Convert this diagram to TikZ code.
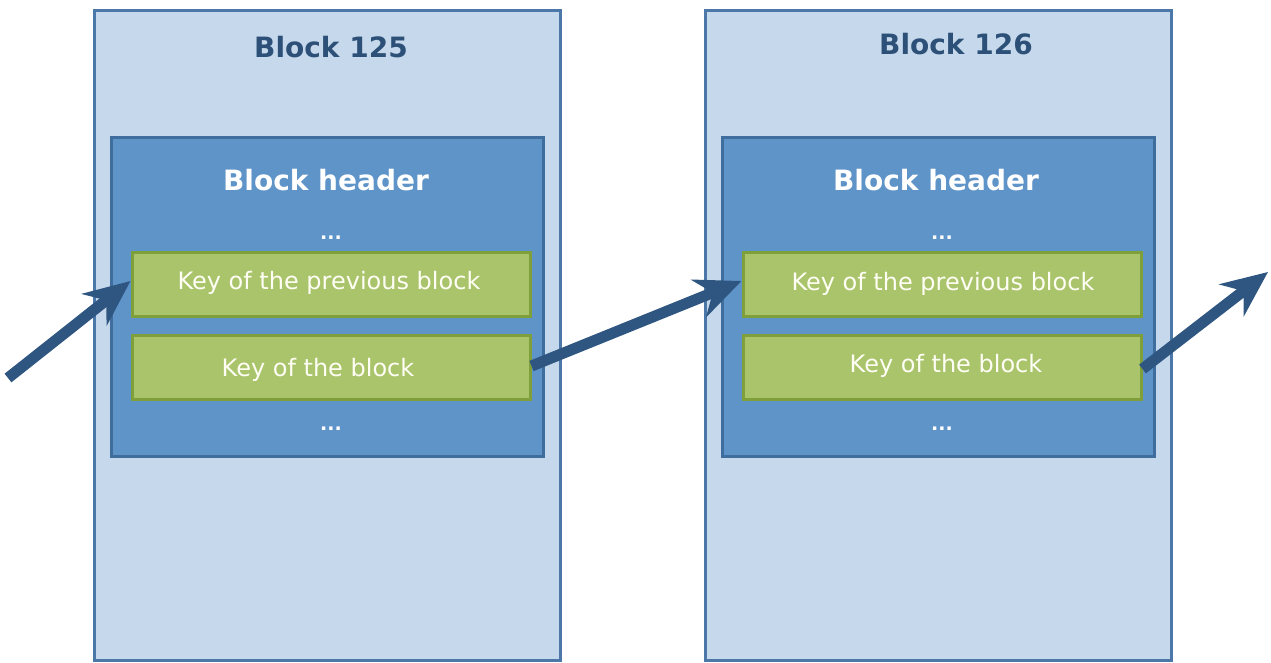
\documentclass[tikz,border=0pt]{standalone}
\usepackage{fontspec}
\setmainfont{DejaVu Sans}
\usetikzlibrary{arrows.meta}
\definecolor{outerfill}{HTML}{C6D8EB}
\definecolor{outerline}{HTML}{4B78A8}
\definecolor{innerfill}{HTML}{5F94C9}
\definecolor{innerline}{HTML}{3F6D9D}
\definecolor{keyfill}{HTML}{A9C46B}
\definecolor{keyline}{HTML}{7F9F3B}
\definecolor{titleblue}{HTML}{2C5077}
\definecolor{arrowblue}{HTML}{2E5681}
\tikzset{
  blockbox/.style={draw=outerline, fill=outerfill, line width=3pt,
    minimum width=466pt, minimum height=650pt, inner sep=0pt},
  headerbox/.style={draw=innerline, fill=innerfill, line width=3pt,
    minimum width=432pt, minimum height=319pt, inner sep=0pt},
  keybox/.style={draw=keyline, fill=keyfill, line width=3pt,
    minimum width=398pt, minimum height=64pt, inner sep=0pt},
  blocktitle/.style={text=titleblue, font=\fontsize{28}{32}\selectfont\bfseries},
  headertitle/.style={text=white, font=\fontsize{28}{32}\selectfont\bfseries},
  keytext/.style={text=white!96!yellow, font=\fontsize{24}{28}\selectfont},
  dots/.style={text=white, font=\fontsize{19}{22}\selectfont\bfseries},
  link/.style={draw=arrowblue, line width=11pt,
    -{Stealth[length=46pt, width=40pt, inset=15pt]}}
}
\begin{document}
\begin{tikzpicture}[x=1pt, y=-1pt]
\useasboundingbox (0,0) rectangle (1271,662);

% Block 125
\node[blockbox] (b1) at (327,335) {};
\node[blocktitle] (t1) at (331,47) {Block 125};
\node[headerbox] (h1) at (327,296.5) {};
\node[headertitle] (ht1) at (326,180) {Block header};
\node[dots] (d1a) at (331,238) {...};
\node[keybox] (p1) at (331,284) {};
\node[keytext] (pt1) at (329,283) {Key of the previous block};
\node[keybox] (k1) at (331,367) {};
\node[keytext] (kt1) at (318,370) {Key of the block};
\node[dots] (d1b) at (331,429) {...};

% Block 126
\node[blockbox] (b2) at (938,335) {};
\node[blocktitle] (t2) at (956,44) {Block 126};
\node[headerbox] (h2) at (938.5,296.5) {};
\node[headertitle] (ht2) at (936,180) {Block header};
\node[dots] (d2a) at (942,238) {...};
\node[keybox] (p2) at (942,284) {};
\node[keytext] (pt2) at (943,284) {Key of the previous block};
\node[keybox] (k2) at (942,367) {};
\node[keytext] (kt2) at (946,366) {Key of the block};
\node[dots] (d2b) at (942,429) {...};

% Chain links
\coordinate (in) at (8,378);
\coordinate (out) at (1268,272);
\draw[link] (in) -- ([yshift=3pt]p1.west);
\draw[link] ([yshift=1pt]k1.east) -- ([yshift=3pt]p2.west);
\draw[link] ([yshift=-2pt]k2.east) -- (out);
\end{tikzpicture}
\end{document}
